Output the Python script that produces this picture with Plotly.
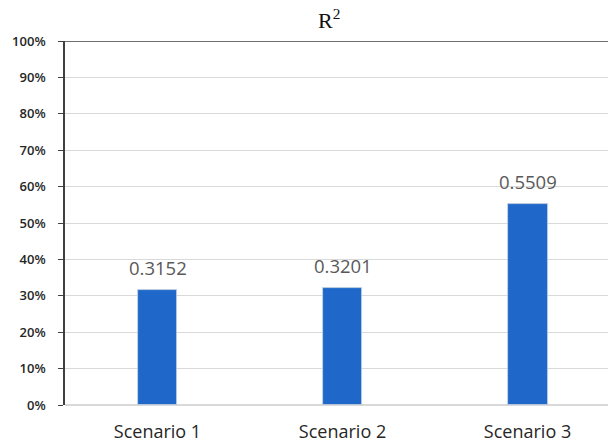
import plotly.graph_objects as go

# R² by scenario
scenarios = ["Scenario 1", "Scenario 2", "Scenario 3"]
r2_values = [0.3152, 0.3201, 0.5509]
value_labels = ["0.3152", "0.3201", "0.5509"]

bar_color = "#1f68c9"
axis_color = "#404040"
grid_color = "#d9d9d9"

fig = go.Figure()
fig.add_trace(go.Bar(
    x=scenarios,
    y=r2_values,
    width=0.216,
    marker=dict(color=bar_color, line=dict(color="#c9d3df", width=0.8)),
    hoverinfo="skip",
))

for name, val, lab in zip(scenarios, r2_values, value_labels):
    fig.add_annotation(
        x=name, y=val, text=lab, showarrow=False,
        yanchor="bottom", yshift=8,
        font=dict(family="Open Sans", size=18.5, color="#595959"),
    )

fig.add_annotation(
    xref="paper", yref="paper", x=0.487, y=1.0, yshift=6,
    text="R<sup>2</sup>", showarrow=False, yanchor="bottom",
    font=dict(family="Liberation Serif", size=22, color="#111111"),
)

# dark top border of the plot area
fig.add_shape(type="line", xref="paper", yref="y", x0=0, x1=1, y0=1, y1=1,
              line=dict(color=axis_color, width=1.5))

fig.update_layout(
    width=608, height=445,
    margin=dict(l=65, r=0, t=41, b=40),
    paper_bgcolor="white", plot_bgcolor="white",
    showlegend=False,
    bargap=0,
)
fig.update_xaxes(
    range=[-0.5, 2.435],
    showline=False, showgrid=False, zeroline=False,
    ticks="", ticklabelstandoff=14,
    tickfont=dict(family="Open Sans", size=18, color="#262626"),
)
fig.update_yaxes(
    range=[0, 1], dtick=0.1, tickformat=".0%",
    showgrid=True, gridcolor=grid_color, gridwidth=1.2,
    zeroline=True, zerolinecolor=grid_color, zerolinewidth=1.5,
    showline=True, linecolor=axis_color, linewidth=1.5,
    ticks="outside", ticklen=5, tickcolor=axis_color, tickwidth=1.2,
    ticklabelstandoff=10,
    tickfont=dict(family="Open Sans", size=13, color="#262626", weight=600),
)

fig.write_html("out.html")
